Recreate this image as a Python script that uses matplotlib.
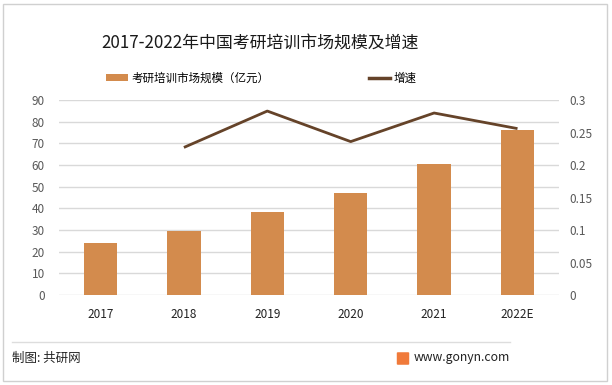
import matplotlib
matplotlib.use("Agg")
import matplotlib.pyplot as plt
from matplotlib.patches import Rectangle, FancyBboxPatch
from matplotlib.lines import Line2D
from matplotlib.patches import Patch

plt.rcParams['font.family'] = ['Noto Sans CJK SC', 'DejaVu Sans']

years = ["2017", "2018", "2019", "2020", "2021", "2022E"]
market_size = [24.0, 29.5, 38.3, 47.1, 60.5, 76.1]
growth_years = ["2018", "2019", "2020", "2021", "2022E"]
growth = [0.227, 0.283, 0.236, 0.280, 0.256]
left_ticks = [0, 10, 20, 30, 40, 50, 60, 70, 80, 90]
right_ticks = [0, 0.05, 0.1, 0.15, 0.2, 0.25, 0.3]
right_labels = ["0", "0.05", "0.1", "0.15", "0.2", "0.25", "0.3"]

bar_color = "#D38B4D"
line_color = "#654329"
grid_color = "#D9D9D9"
tick_color = "#595959"

fig = plt.figure(figsize=(6.12, 3.85), dpi=100)
W, H = 612, 385

# outer border
fig.patches.append(Rectangle((3 / W, 4 / H), 604 / W, 377 / H, transform=fig.transFigure,
                             fill=False, edgecolor="#D0D0D0", linewidth=1.0))

ax = fig.add_axes([58.8 / W, 1 - 295 / H, 500.4 / W, 195 / H])
x = list(range(len(years)))
ax.bar(x, market_size, width=0.4, color=bar_color, zorder=2)
ax.set_xlim(-0.5, len(years) - 0.5)
ax.set_ylim(0, 90)
ax.set_yticks(left_ticks)
ax.yaxis.grid(True, color=grid_color, linewidth=1.0, zorder=0)
ax.set_axisbelow(True)
for s in ax.spines.values():
    s.set_visible(False)
ax.set_xticks(x)
ax.set_xticklabels(years, fontsize=8.5, color="#222222")
ax.tick_params(axis='both', length=0)
ax.tick_params(axis='y', labelsize=8.5, labelcolor=tick_color, pad=10)
ax.tick_params(axis='x', pad=9)

ax2 = ax.twinx()
gx = [years.index(y) for y in growth_years]
ax2.plot(gx, growth, color=line_color, linewidth=2.0, solid_capstyle='butt', zorder=3)
ax2.set_ylim(0, 0.3)
ax2.set_yticks(right_ticks)
ax2.set_yticklabels(right_labels)
ax2.tick_params(axis='y', length=0, labelsize=8.5, labelcolor=tick_color, pad=7)
for s in ax2.spines.values():
    s.set_visible(False)

fig.text(260 / W, 1 - 43 / H, "2017-2022年中国考研培训市场规模及增速", ha='center', va='center',
         fontsize=12.2, color="#1a1a1a")

handles = [Patch(facecolor=bar_color, edgecolor='none'),
           Line2D([0], [0], color=line_color, linewidth=2.5)]
labels = ["考研培训市场规模（亿元）", "增速"]
fig.legend(handles, labels, loc='center left', bbox_to_anchor=(106 / W, 1 - 78 / H),
           ncol=2, frameon=False, fontsize=8.3, handlelength=1.9, handleheight=0.6,
           handletextpad=0.3, columnspacing=8.6, borderpad=0, borderaxespad=0)

# footer separator
fig.lines.append(Line2D([12 / W, 510 / W], [1 - 342 / H, 1 - 342 / H], transform=fig.transFigure,
                        color="#DDDDDD", linewidth=1.0))
fig.text(12 / W, 1 - 358 / H, "制图: 共研网", ha='left', va='center', fontsize=9, color="#222222")
fig.text(510 / W, 1 - 358 / H, "www.gonyn.com", ha='right', va='center', fontsize=8.8, color="#222222")
fig.patches.append(FancyBboxPatch((398 / W, 1 - 364 / H), 10 / W, 11 / H, transform=fig.transFigure,
                                  boxstyle="round,pad=0.002", facecolor="#F07A3A", edgecolor='none'))

fig.savefig("out.png", dpi=100)
